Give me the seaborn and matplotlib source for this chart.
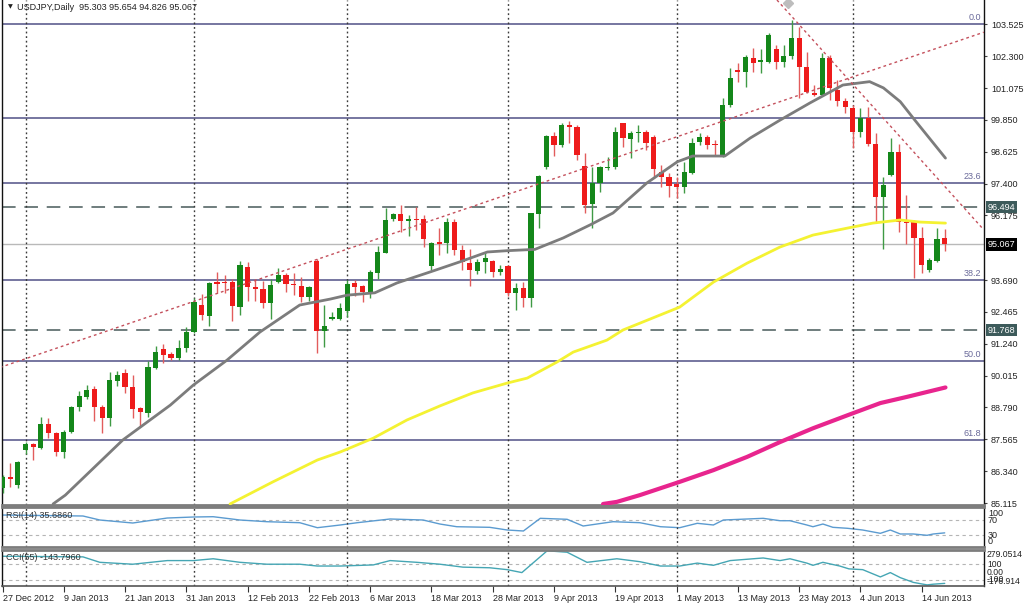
import numpy as np
import pandas as pd
import matplotlib.pyplot as plt
import seaborn as sns
from matplotlib.transforms import blended_transform_factory

sns.set_theme(style="white")
plt.rcParams['font.family'] = ['Liberation Sans', 'DejaVu Sans']

# Dados diarios USDJPY, barra 0 = 27 Dec 2012
opens = [85.68, 86.13, 85.81, 87.15, 87.37, 87.22, 88.15, 87.82, 87.06, 87.86,
         88.81, 89.20, 89.49, 88.82, 88.38, 89.82, 90.10, 89.59, 88.76, 88.59,
         90.31, 91.04, 90.84, 90.68, 91.06, 91.68, 92.73, 92.31, 93.60, 93.63,
         93.61, 92.66, 94.20, 93.41, 93.33, 92.79, 93.63, 93.88, 93.53, 93.46,
         93.03, 94.43, 91.74, 92.18, 92.18, 92.51, 93.56, 93.46, 93.24, 93.97,
         94.74, 96.03, 96.23, 95.97, 96.03, 96.03, 94.23, 95.16, 95.10, 95.93,
         94.84, 94.33, 94.05, 94.38, 94.42, 94.01, 94.23, 93.18, 93.37, 92.99,
         96.23, 98.05, 99.23, 98.88, 99.65, 99.59, 98.08, 96.61, 97.43, 97.99,
         98.03, 99.72, 99.10, 99.33, 99.38, 99.18, 97.86, 97.66, 97.38, 97.28,
         97.79, 99.01, 99.20, 98.92, 98.50, 100.42, 101.77, 101.68, 102.22, 102.09,
         102.09, 102.56, 102.09, 102.31, 102.99, 101.87, 100.89, 100.81, 102.22, 101.00,
         100.59, 100.29, 99.39, 99.91, 98.92, 96.87, 97.73, 98.63, 95.92, 95.93,
         95.30, 94.08, 94.41, 95.303]
highs = [86.19, 86.65, 86.73, 87.47, 87.42, 88.42, 88.38, 87.86, 87.92, 88.84,
         89.43, 89.64, 89.61, 88.88, 90.14, 90.20, 90.26, 90.04, 88.82, 90.57,
         91.16, 91.23, 90.93, 91.38, 91.89, 92.99, 93.14, 93.63, 94.01, 93.88,
         93.72, 94.42, 94.38, 93.73, 93.66, 93.72, 94.14, 93.95, 93.95, 93.79,
         93.46, 94.49, 92.73, 92.47, 92.82, 93.69, 93.69, 93.50, 94.08, 95.00,
         96.45, 96.28, 96.58, 96.19, 96.51, 96.19, 95.16, 95.68, 96.06, 96.02,
         95.04, 94.87, 94.49, 94.78, 94.46, 94.27, 94.27, 93.59, 93.62, 96.28,
         97.73, 99.27, 99.39, 99.72, 99.81, 99.65, 98.59, 98.03, 98.08, 98.43,
         99.59, 99.74, 99.43, 99.65, 99.46, 99.27, 98.11, 97.82, 97.66, 98.24,
         99.14, 99.33, 99.27, 99.07, 100.68, 101.83, 102.03, 102.34, 102.60, 102.56,
         103.18, 102.73, 102.73, 103.69, 103.43, 102.47, 101.19, 102.41, 102.34, 101.38,
         100.68, 100.42, 100.29, 100.33, 99.33, 97.66, 99.14, 98.92, 96.96, 95.99,
         95.74, 94.53, 95.68, 95.654]
lows = [85.51, 85.73, 85.69, 87.00, 86.77, 87.19, 87.63, 86.92, 86.86, 87.82,
        88.65, 89.10, 88.28, 87.82, 88.07, 89.61, 89.36, 88.37, 88.05, 88.43,
        90.28, 90.51, 90.61, 90.61, 90.93, 91.64, 92.15, 91.93, 93.18, 93.18,
        92.13, 92.34, 92.89, 92.89, 92.60, 92.18, 93.56, 93.24, 93.11, 92.86,
        92.89, 90.87, 91.13, 92.15, 92.15, 92.28, 93.08, 92.86, 92.99, 93.72,
        94.72, 95.97, 95.55, 95.38, 95.61, 94.95, 94.08, 94.65, 94.74, 94.65,
        94.08, 93.46, 93.92, 93.95, 93.82, 93.88, 93.07, 92.54, 92.64, 92.66,
        95.68, 97.95, 98.46, 98.82, 98.97, 98.31, 96.26, 95.68, 97.09, 97.92,
        97.95, 98.82, 98.37, 99.01, 98.69, 97.60, 97.26, 96.89, 96.83, 97.03,
        97.77, 98.88, 98.72, 98.46, 98.43, 100.36, 101.32, 101.13, 101.70, 101.66,
        102.05, 101.79, 101.89, 102.18, 100.68, 100.87, 100.77, 100.77, 100.61, 100.38,
        100.10, 98.76, 99.20, 98.84, 95.87, 94.87, 97.69, 95.55, 95.08, 93.76,
        93.95, 94.01, 94.39, 94.826]
closes = [86.13, 86.05, 86.69, 87.38, 87.26, 88.15, 87.82, 87.06, 87.86, 88.82,
          89.23, 89.46, 88.79, 88.38, 89.84, 90.04, 89.56, 88.72, 88.60, 90.33,
          90.91, 90.82, 90.68, 91.06, 91.70, 92.83, 92.35, 93.59, 93.54, 93.56,
          92.69, 94.27, 93.41, 93.34, 92.79, 93.50, 93.88, 93.53, 93.50, 93.03,
          93.43, 91.74, 91.93, 92.28, 92.60, 93.53, 93.43, 93.24, 94.01, 94.78,
          96.00, 96.23, 95.97, 96.03, 96.00, 95.26, 95.10, 95.08, 95.93, 94.84,
          94.39, 94.08, 94.39, 94.54, 94.01, 94.10, 93.18, 93.37, 92.99, 96.26,
          97.70, 99.23, 98.88, 99.65, 99.59, 98.50, 96.57, 97.41, 98.03, 98.05,
          99.39, 99.14, 99.36, 99.39, 98.95, 97.95, 97.64, 97.32, 97.28, 97.83,
          98.95, 99.20, 98.88, 98.88, 100.42, 101.45, 101.68, 102.26, 102.05, 102.13,
          103.11, 102.09, 102.31, 102.99, 101.89, 100.93, 100.81, 102.22, 101.06, 100.59,
          100.33, 99.39, 99.91, 98.92, 96.87, 97.34, 98.63, 95.92, 95.87, 95.30,
          94.27, 94.46, 95.26, 95.067]

date_labels = ['27 Dec 2012', '9 Jan 2013', '21 Jan 2013', '31 Jan 2013', '12 Feb 2013',
               '22 Feb 2013', '6 Mar 2013', '18 Mar 2013', '28 Mar 2013', '9 Apr 2013',
               '19 Apr 2013', '1 May 2013', '13 May 2013', '23 May 2013', '4 Jun 2013',
               '14 Jun 2013']
month_starts = [3, 25, 45, 66, 88, 111]

# medias moveis (pontos lidos)
ma_gray_idx = [6.6, 8.2, 15.7, 21.9, 24.9, 29.3, 33.6, 38.8, 42.8, 45.0, 48.6, 51.5,
               55.8, 59.7, 63.3, 65.9, 69.5, 73.2, 76.7, 79.7, 84.1, 88.1, 90.1, 94.3,
               97.6, 101.5, 105.4, 109.7, 113.2, 115.0, 117.2, 119.1, 123.1]
ma_gray_val = [85.08, 85.42, 87.54, 88.88, 89.65, 90.61, 91.69, 92.73, 92.96, 93.11,
               93.20, 93.58, 94.00, 94.39, 94.77, 94.82, 94.87, 95.31, 95.81, 96.27,
               97.42, 98.24, 98.46, 98.46, 99.15, 99.84, 100.50, 101.19, 101.32,
               101.08, 100.55, 99.84, 98.38]
ma_yellow_idx = [29.7, 35.3, 41.1, 44.1, 48.4, 52.8, 57.1, 61.4, 65.9, 68.5, 72.4, 74.5,
                 78.9, 81.0, 88.4, 92.8, 97.2, 101.5, 105.8, 111.0, 113.6, 117.2, 119.8, 123.1]
ma_yellow_val = [85.08, 85.93, 86.77, 87.08, 87.61, 88.31, 88.85, 89.35, 89.73, 89.92,
                 90.54, 90.92, 91.38, 91.77, 92.65, 93.61, 94.34, 94.96, 95.42, 95.73,
                 95.88, 96.00, 95.92, 95.88]
ma_pink_idx = [78.4, 80.2, 83.2, 88.4, 92.8, 97.2, 101.5, 105.8, 110.3, 114.6, 118.1, 123.1]
ma_pink_val = [85.08, 85.16, 85.42, 85.93, 86.38, 86.89, 87.46, 87.99, 88.49, 88.96,
               89.20, 89.56]

# linhas horizontais / fibo / tendencia
fib_lines = [103.525, 99.92, 97.42, 93.69, 90.57, 87.53]
fib_levels = [103.525, 97.42, 93.69, 90.57, 87.53]
fib_names = ['0.0', '23.6', '38.2', '50.0', '61.8']
dashed_levels = [96.494, 91.768]
last_price = 95.067
trend_up_x = [-0.33, 128.1]
trend_up_y = [90.33, 103.22]
trend_down_x = [101.1, 127.9]
trend_down_y = [104.46, 95.69]
price_ticks = [103.525, 102.300, 101.075, 99.850, 98.625, 97.400, 96.175,
               93.690, 92.465, 91.240, 90.015, 88.790, 87.565, 86.340, 85.115]

rsi_idx = [0, 10.5, 12.7, 17.0, 21.5, 24.9, 27.5, 31.0, 34.5, 38.8, 41.1, 44.1, 46.3,
           50.6, 54.9, 57.1, 59.3, 63.6, 65.9, 68.0, 70.2, 73.7, 75.8, 79.7, 83.2, 85.9,
           88.4, 90.7, 92.8, 94.1, 99.3, 101.5, 102.8, 105.0, 105.8, 107.1, 108.4, 110.3,
           112.3, 114.6, 115.9, 117.2, 118.9, 120.7, 121.5, 123.0]
rsi_val = [83.3, 80.7, 70, 62, 75.3, 78, 78.8, 70, 65.5, 62.8, 49.5, 56.7, 62.8,
           72.7, 70, 59.3, 52.1, 50.5, 43.3, 40.7, 74.5, 71.9, 54, 65.5, 62.8, 52.1,
           49.5, 61.2, 56.7, 70, 74.5, 68.1, 68.1, 56.7, 52.1, 59.3, 50.5, 47.9,
           43.3, 34.5, 43.3, 32.7, 32.7, 29.2, 32.7, 35.686]
cci_idx = [0, 10.5, 12.7, 17.0, 21.5, 24.9, 27.5, 31.0, 34.5, 38.8, 41.1, 44.1, 48.4,
           50.6, 54.1, 57.1, 60.1, 63.6, 65.9, 67.8, 71.1, 73.7, 76.3, 80.2, 83.2, 85.9,
           88.4, 90.7, 92.8, 95.0, 99.3, 101.5, 102.8, 105.0, 105.8, 107.1, 109.3, 110.5,
           112.3, 114.6, 115.9, 117.2, 118.9, 120.7, 121.5, 123.0]
cci_val = [200, 192, 123, 99, 145, 145, 168, 123, 99, 99, 76, 76, 90,
           145, 123, 99, 62, 54, 30, -7, 269, 251, 123, 168, 131, 76,
           76, 113, 85, 145, 178, 145, 168, 113, 85, 123, 76, 40,
           30, -62, -7, -71, -131, -163, -154, -143.796]

df = pd.DataFrame({'open': opens, 'high': highs, 'low': lows, 'close': closes})
df['i'] = np.arange(len(df))
up = df['close'] >= df['open']
body_col = np.where(up, '#14871a', '#ee1b1b')
wick_col = np.where(up, '#3f9a44', '#e25c5c')

fig = plt.figure(figsize=(10.24, 6.03), dpi=100)
fig.patch.set_facecolor('white')
L, W = 2 / 1024, 982 / 1024
ax = fig.add_axes([L, 98 / 603, W, 505 / 603])
ax_rsi = fig.add_axes([L, 56 / 603, W, 40 / 603], sharex=ax)
ax_cci = fig.add_axes([L, 17 / 603, W, 36 / 603], sharex=ax)

FS = 6.5
TXT = '#222222'

# --- painel principal ---
for lv in fib_lines:
    ax.axhline(lv, color='#6b6b98', lw=1.3, zorder=1)
ax.axhline(last_price, color='#b9b9b9', lw=1, zorder=1)
for lv in dashed_levels:
    ax.axhline(lv, color='#6f7d7d', lw=1.4, ls=(0, (7, 4.5)), zorder=1)

ax.vlines(df['i'], df['low'], df['high'], colors=wick_col, lw=1, zorder=3)
body_lo = np.minimum(df['open'], df['close'])
body_h = np.maximum((df['close'] - df['open']).abs(), 0.045)
ax.bar(df['i'], body_h, bottom=body_lo, width=0.68, color=body_col, linewidth=0, zorder=4)

sns.lineplot(x=ma_pink_idx, y=ma_pink_val, ax=ax, color='#e8258e', lw=3, zorder=5)
sns.lineplot(x=ma_yellow_idx, y=ma_yellow_val, ax=ax, color='#f4f232', lw=2, zorder=5)
sns.lineplot(x=ma_gray_idx, y=ma_gray_val, ax=ax, color='#7c7c7c', lw=2, zorder=5)

ax.plot(trend_up_x, trend_up_y, color='#c4505c', lw=1, ls=(0, (2, 2.2)), zorder=6)
ax.plot(trend_down_x, trend_down_y, color='#c4505c', lw=1, ls=(0, (2, 2.2)), zorder=6)
ax.plot([102.6], [104.35], marker='D', color='#bdbdbd', ms=5, zorder=6)

for lv, nm in zip(fib_levels, fib_names):
    ax.text(127.8, lv + 0.08, nm, ha='right', va='bottom', fontsize=FS, color='#6a6a9a', zorder=7)

ax.set_xlim(-0.07, 128.13)
ax.set_ylim(85.04, 104.46)
ax.yaxis.tick_right()
ax.set_yticks(price_ticks)
ax.set_yticklabels([f'{v:.3f}' for v in price_ticks], fontsize=FS, color=TXT)
ax.tick_params(axis='y', right=True, length=2, width=0.8, pad=3, color='#444444')
ax.tick_params(axis='x', bottom=False, labelbottom=False)
ax.set_xlabel('')
ax.set_ylabel('')

tr = blended_transform_factory(ax.transAxes, ax.transData)
for lv in dashed_levels:
    ax.text(1.004, lv, f'{lv:.3f}', transform=tr, ha='left', va='center', fontsize=FS,
            color='white', clip_on=False, zorder=10,
            bbox=dict(boxstyle='square,pad=0.2', fc='#3d5b5b', ec='none'))
ax.text(1.004, last_price, f'{last_price:.3f}', transform=tr, ha='left', va='center',
        fontsize=FS, color='white', clip_on=False, zorder=10,
        bbox=dict(boxstyle='square,pad=0.2', fc='black', ec='none'))

ax.text(6 / 982, 1 - 7 / 505, '\u25bc', transform=ax.transAxes, fontsize=4.5,
        color='#222222', ha='left', va='center', family='DejaVu Sans')
ax.text(15 / 982, 1 - 7 / 505, 'USDJPY,Daily  95.303 95.654 94.826 95.067',
        transform=ax.transAxes, fontsize=FS, color=TXT, ha='left', va='center')

# --- RSI ---
ax_rsi.axhline(70, color='#b5b5b5', lw=0.8, ls=(0, (3, 3)))
ax_rsi.axhline(30, color='#b5b5b5', lw=0.8, ls=(0, (3, 3)))
sns.lineplot(x=rsi_idx, y=rsi_val, ax=ax_rsi, color='#5b9bd0', lw=1)
ax_rsi.set_ylim(-2, 104.7)
ax_rsi.set_yticks([])
trr = blended_transform_factory(ax_rsi.transAxes, ax_rsi.transData)
for v, s, va in [(100, '100', 'top'), (70, '70', 'center'), (30, '30', 'center'),
                 (0, '0', 'bottom')]:
    ax_rsi.text(1.004, v, s, transform=trr, ha='left', va=va, fontsize=FS, color=TXT,
                clip_on=False)
ax_rsi.tick_params(axis='x', bottom=False, labelbottom=False)
ax_rsi.text(4 / 982, 0.8, 'RSI(14) 35.6860', transform=ax_rsi.transAxes,
            fontsize=FS, color='#333333', va='center')
ax_rsi.set_ylabel('')

# --- CCI ---
cci_lo, cci_hi = -176.914, 279.0514
ax_cci.axhline(100, color='#b5b5b5', lw=0.8, ls=(0, (3, 3)))
ax_cci.axhline(-100, color='#b5b5b5', lw=0.8, ls=(0, (3, 3)))
sns.lineplot(x=cci_idx, y=cci_val, ax=ax_cci, color='#45a6b4', lw=1)
ax_cci.set_ylim(cci_lo, cci_hi)
ax_cci.set_yticks([])
trc = blended_transform_factory(ax_cci.transAxes, ax_cci.transData)
for v, s, va in [(cci_hi, '279.0514', 'top'), (100, '100', 'center'), (0, '0.00', 'center'),
                 (-100, '-100', 'center'), (cci_lo, '-176.914', 'bottom')]:
    ax_cci.text(1.003, v, s, transform=trc, ha='left', va=va, fontsize=6.2, color=TXT,
                clip_on=False)
ax_cci.text(4 / 982, 0.78, 'CCI(55) -143.7960', transform=ax_cci.transAxes,
            fontsize=FS, color='#333333', va='center')
ax_cci.set_xticks(list(range(0, 8 * len(date_labels), 8)))
ax_cci.set_xticklabels(date_labels, fontsize=FS, color=TXT, ha='left')
ax_cci.tick_params(axis='x', bottom=True, direction='out', length=4, width=0.8,
                   pad=1.5, color='#333333')
ax_cci.set_ylabel('')

# linhas verticais (inicio de mes) e bordas
for a in (ax, ax_rsi, ax_cci):
    for m in month_starts:
        a.axvline(m, color='#3a3a3a', lw=1, ls=(0, (1.3, 2)), zorder=2)
    a.set_facecolor('white')
    a.grid(False)
    for s in ('left', 'right'):
        a.spines[s].set_color('#111111')
        a.spines[s].set_linewidth(1)
    for s in ('top', 'bottom'):
        a.spines[s].set_color('#7d7d7d')
        a.spines[s].set_linewidth(2)
ax.spines['top'].set_visible(False)
ax_cci.spines['bottom'].set_linewidth(1.2)
ax_cci.spines['bottom'].set_color('#555555')

plt.savefig('out.png', dpi=100)
